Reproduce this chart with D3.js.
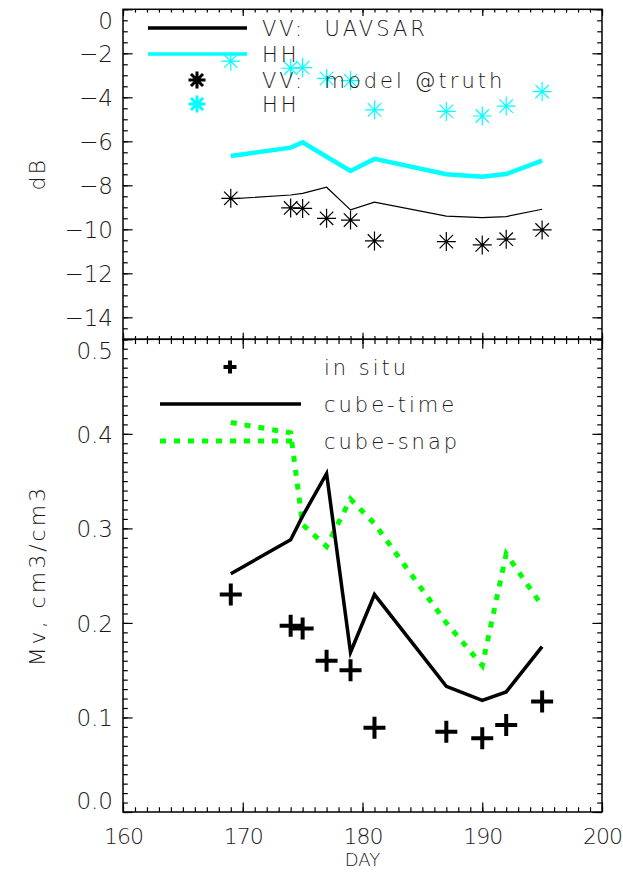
<!DOCTYPE html>
<html>
<head>
<meta charset="utf-8">
<script src="https://cdn.jsdelivr.net/npm/d3@7"></script>
<style>
  body { margin: 0; background: #fff; }
  text { font-family: "DejaVu Sans", sans-serif; font-weight: 200; fill: #1a1a1a; }
</style>
</head>
<body>
<div id="chart"></div>
<script>
// Data
var days = [169, 174, 175, 177, 179, 181, 187, 190, 192, 195];

// top panel (dB)
var vvUavsar = [-8.62, -8.44, -8.37, -8.09, -9.12, -8.77, -9.40, -9.47, -9.42, -9.09];
var hhUavsar = [-6.67, -6.29, -6.05, -6.70, -7.35, -6.80, -7.50, -7.61, -7.49, -6.88];
var vvModel = [-8.59, -9.03, -9.05, -9.50, -9.58, -10.53, -10.56, -10.71, -10.45, -10.03];
var hhModel = [-2.36, -2.68, -2.65, -3.14, -3.24, -4.57, -4.64, -4.85, -4.40, -3.74];

// bottom panel (Mv)
var inSitu = [0.230, 0.197, 0.194, 0.160, 0.150, 0.089, 0.085, 0.078, 0.092, 0.117];
var cubeTime = [0.252, 0.288, 0.313, 0.358, 0.169, 0.230, 0.133, 0.118, 0.127, 0.175];
var cubeSnap = [0.412, 0.401, 0.304, 0.281, 0.331, 0.305, 0.200, 0.155, 0.273, 0.218];

var xTicks = [160, 170, 180, 190, 200];
var dbTicks = [0, -2, -4, -6, -8, -10, -12, -14];
var mvTicks = [0.0, 0.1, 0.2, 0.3, 0.4, 0.5];

var width = 623, height = 875;
var left = 123, right = 602;
var topY = 9.3, midY = 339.3, bottomY = 812;

var svg = d3.select("#chart").append("svg")
  .attr("width", width)
  .attr("height", height);

svg.append("rect").attr("width", width).attr("height", height).attr("fill", "#fff");

var x = d3.scaleLinear().domain([160, 200]).range([left, right]);
var yDb = d3.scaleLinear().domain([-15, 0]).range([midY, topY]);
var yMv = d3.scaleLinear().domain([0, 0.5]).range([bottomY, midY]);

var minorX = d3.range(160, 201, 1);
var minorDb = d3.range(-15, 0.01, 0.5);
var minorMv = d3.range(0, 0.501, 0.01);

function styleAxis(g) {
  g.select(".domain").remove();
  g.selectAll("line").attr("stroke", "#000").attr("stroke-width", 1.2);
  g.selectAll("text")
    .style("font-family", "DejaVu Sans, sans-serif")
    .style("font-weight", 200)
    .style("font-size", "23px")
    .attr("fill", "#1a1a1a");
}

// draws a panel's frame and ticks
function panel(y, y0, y1, yTicks, yMinor, yFmt, xLen) {
  var yLen = 9.6;
  // left
  svg.append("g").attr("transform", "translate(" + left + ",0)")
    .call(d3.axisLeft(y).tickValues(yMinor).tickSize(-yLen / 2).tickFormat(""))
    .call(styleAxis);
  var la = svg.append("g").attr("transform", "translate(" + left + ",0)")
    .call(d3.axisLeft(y).tickValues(yTicks).tickSize(-yLen).tickPadding(10).tickFormat(yFmt))
    .call(styleAxis);
  // push the edge labels inside the panel, like the original
  la.selectAll("text").attr("dy", function(d) {
    if (Math.abs(y(d) - y0) < 1) return "-0.15em";
    if (Math.abs(y(d) - y1) < 1) return "0.85em";
    return "0.36em";
  });
  // right
  svg.append("g").attr("transform", "translate(" + right + ",0)")
    .call(d3.axisRight(y).tickValues(yMinor).tickSize(-yLen / 2).tickFormat(""))
    .call(styleAxis);
  svg.append("g").attr("transform", "translate(" + right + ",0)")
    .call(d3.axisRight(y).tickValues(yTicks).tickSize(-yLen).tickFormat(""))
    .call(styleAxis);
  // top and bottom
  [[y1, d3.axisTop], [y0, d3.axisBottom]].forEach(function(s) {
    svg.append("g").attr("transform", "translate(0," + s[0] + ")")
      .call(s[1](x).tickValues(minorX).tickSize(-xLen / 2).tickFormat(""))
      .call(styleAxis);
    svg.append("g").attr("transform", "translate(0," + s[0] + ")")
      .call(s[1](x).tickValues(xTicks).tickSize(-xLen).tickFormat(""))
      .call(styleAxis);
  });
  // frame
  svg.append("rect")
    .attr("x", left).attr("y", y1)
    .attr("width", right - left).attr("height", y0 - y1)
    .attr("fill", "none").attr("stroke", "#000").attr("stroke-width", 1.5);
}

panel(yDb, midY, topY, dbTicks, minorDb,
  function(d) { return d === 0 ? "0" : "\u2212" + Math.abs(d); }, 6.6);
panel(yMv, bottomY, midY, mvTicks, minorMv, d3.format(".1f"), 9.5);

// x tick labels
svg.append("g").attr("transform", "translate(0," + bottomY + ")")
  .call(d3.axisBottom(x).tickValues(xTicks).tickSize(0).tickPadding(16).tickFormat(d3.format("d")))
  .call(styleAxis)
  .selectAll("text")
  .style("font-size", "22px")
  .style("letter-spacing", "-1px");

// axis titles
svg.append("text").attr("x", x(180)).attr("y", 866)
  .attr("text-anchor", "middle").style("font-size", "18px").text("DAY");
svg.append("text").attr("transform", "translate(45," + yDb(-7.5) + ") rotate(-90)")
  .attr("text-anchor", "middle").style("font-size", "22px").style("letter-spacing", "2px")
  .text("dB");
svg.append("text").attr("transform", "translate(45," + yMv(0.25) + ") rotate(-90)")
  .attr("text-anchor", "middle").style("font-size", "22px").style("letter-spacing", "3px")
  .text("Mv, cm3/cm3");

// symbols
function asterisk(r) {
  var d = r * Math.SQRT1_2;
  return "M" + (-r) + ",0L" + r + ",0M0," + (-r) + "L0," + r +
    "M" + (-d) + "," + (-d) + "L" + d + "," + d + "M" + (-d) + "," + d + "L" + d + "," + (-d);
}
function plus(r) {
  return "M" + (-r) + ",0L" + r + ",0M0," + (-r) + "L0," + r;
}

// top panel lines
var lineDb = d3.line().x(function(d) { return x(d[0]); }).y(function(d) { return yDb(d[1]); });
svg.append("path").datum(d3.zip(days, hhUavsar)).attr("d", lineDb)
  .attr("fill", "none").attr("stroke", "#00ffff").attr("stroke-width", 4.5);
svg.append("path").datum(d3.zip(days, vvUavsar)).attr("d", lineDb)
  .attr("fill", "none").attr("stroke", "#000").attr("stroke-width", 1.2);

svg.selectAll(".hhm").data(d3.zip(days, hhModel)).enter().append("path")
  .attr("transform", function(d) { return "translate(" + x(d[0]) + "," + yDb(d[1]) + ")"; })
  .attr("d", asterisk(9.5)).attr("stroke", "#00ffff").attr("stroke-width", 1.2).attr("fill", "none");
svg.selectAll(".vvm").data(d3.zip(days, vvModel)).enter().append("path")
  .attr("transform", function(d) { return "translate(" + x(d[0]) + "," + yDb(d[1]) + ")"; })
  .attr("d", asterisk(9.5)).attr("stroke", "#000").attr("stroke-width", 1.2).attr("fill", "none");

// bottom panel lines
var lineMv = d3.line().x(function(d) { return x(d[0]); }).y(function(d) { return yMv(d[1]); });
svg.append("path").datum(d3.zip(days, cubeSnap)).attr("d", lineMv)
  .attr("fill", "none").attr("stroke", "#00ff00").attr("stroke-width", 5)
  .attr("stroke-dasharray", "6,8");
svg.append("path").datum(d3.zip(days, cubeTime)).attr("d", lineMv)
  .attr("fill", "none").attr("stroke", "#000").attr("stroke-width", 3.5);
svg.selectAll(".situ").data(d3.zip(days, inSitu)).enter().append("path")
  .attr("transform", function(d) { return "translate(" + x(d[0]) + "," + yMv(d[1]) + ")"; })
  .attr("d", plus(11)).attr("stroke", "#000").attr("stroke-width", 4).attr("fill", "none");

// legends
var legText = function(xp, yp, t) {
  svg.append("text").attr("x", xp).attr("y", yp).attr("dy", "0.36em")
    .style("font-size", "21px").style("letter-spacing", "3px")
    .style("white-space", "pre").text(t);
};
svg.append("line").attr("x1", 148).attr("x2", 247).attr("y1", 28).attr("y2", 28)
  .attr("stroke", "#000").attr("stroke-width", 3.5);
legText(262, 28, "VV:  UAVSAR");
svg.append("line").attr("x1", 148).attr("x2", 247).attr("y1", 54).attr("y2", 54)
  .attr("stroke", "#00ffff").attr("stroke-width", 3.5);
legText(262, 54, "HH");
svg.append("path").attr("transform", "translate(197,80)").attr("d", asterisk(8.5))
  .attr("stroke", "#000").attr("stroke-width", 3);
legText(262, 80, "VV:  model @truth");
svg.append("path").attr("transform", "translate(197,104)").attr("d", asterisk(8.5))
  .attr("stroke", "#00ffff").attr("stroke-width", 3);
legText(262, 104, "HH");

svg.append("path").attr("transform", "translate(230,367)").attr("d", plus(6.5))
  .attr("stroke", "#000").attr("stroke-width", 4);
legText(324, 367, "in situ");
svg.append("line").attr("x1", 160).attr("x2", 301).attr("y1", 404).attr("y2", 404)
  .attr("stroke", "#000").attr("stroke-width", 3.5);
legText(324, 404, "cube-time");
svg.append("line").attr("x1", 160).attr("x2", 298).attr("y1", 441).attr("y2", 441)
  .attr("stroke", "#00ff00").attr("stroke-width", 5).attr("stroke-dasharray", "6,8");
legText(324, 441, "cube-snap");
</script>
</body>
</html>
